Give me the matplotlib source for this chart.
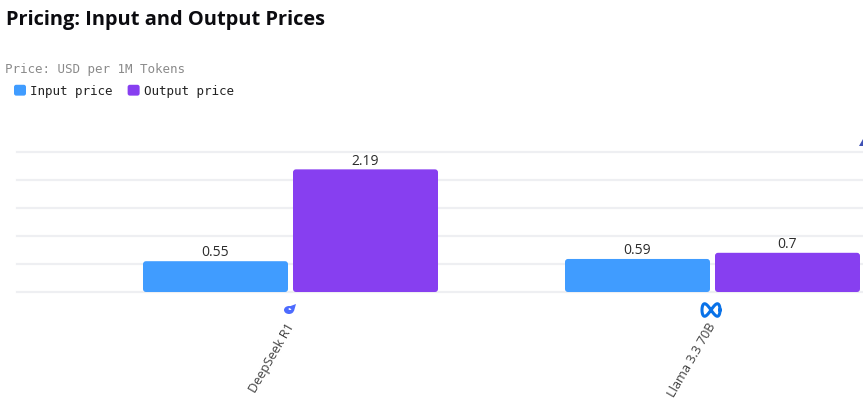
import matplotlib
matplotlib.use("Agg")
import matplotlib.pyplot as plt
import numpy as np
from matplotlib.legend_handler import HandlerPatch
from matplotlib.lines import Line2D
from matplotlib.patches import Ellipse, FancyBboxPatch, Patch, Polygon

# Prices in USD per 1M tokens
models = ["DeepSeek R1", "Llama 3.3 70B"]
input_price = [0.55, 0.59]
output_price = [2.19, 0.7]
y_ticks = [0, 0.5, 1.0, 1.5, 2.0, 2.5]

INPUT_COLOR = "#409CFF"
OUTPUT_COLOR = "#873FF0"
GRID_COLOR = "#EEEFF2"

W, H = 863, 420
fig = plt.figure(figsize=(W / 100, H / 100), dpi=100, facecolor="white")


def fx(px):
    return px / W


def fy(px):
    return 1 - px / H


# Axes box spans the plotting band; categories are spaced widely so the second group touches the edge
ax = fig.add_axes([fx(17), fy(292), fx(846), (292 - 152) / H])
ax.set_facecolor("none")
px_per_cat = 422.0
ax.set_xlim((17 - 290.5) / px_per_cat, (863 - 290.5) / px_per_cat)
ax.set_ylim(0, 2.5)
px_per_val = 140 / 2.5

bar_w = 145 / px_per_cat
gap = 150 / px_per_cat
radius = 3 / px_per_cat
aspect = px_per_cat / px_per_val


def rounded_bars(centers, values, color):
    for c, v in zip(centers, values):
        ax.add_patch(FancyBboxPatch(
            (c - bar_w / 2, 0), bar_w, v,
            boxstyle=f"round,pad=0,rounding_size={radius}",
            mutation_aspect=aspect, facecolor=color, edgecolor="none",
            linewidth=0, zorder=3, clip_on=True))
        ax.annotate(f"{v:g}", (c, v), xytext=(0, 0.6), textcoords="offset points",
                    ha="center", va="bottom", fontsize=10,
                    family="Open Sans", color="#2b2b2b", zorder=4)


x = np.arange(len(models))
rounded_bars(x - gap / 2, input_price, INPUT_COLOR)
rounded_bars(x + gap / 2, output_price, OUTPUT_COLOR)

ax.set_yticks(y_ticks)
ax.set_yticklabels([])
ax.grid(axis="y", color=GRID_COLOR, linewidth=1.6, zorder=0, clip_on=False)
ax.set_axisbelow(True)
ax.tick_params(axis="both", length=0)
for s in ax.spines.values():
    s.set_visible(False)

# Slanted model names sit below the logos
ax.set_xticks(x)
ax.set_xticklabels([])
for xi, name in zip(x, models):
    ax.annotate(name, (xi, 0), xytext=(-3.6, -21), textcoords="offset points",
                rotation=60, rotation_mode="anchor", ha="right", va="top",
                fontsize=9.2, family="Open Sans", color="#404040")

# Title and unit caption
fig.text(fx(6), fy(19.5), "Pricing: Input and Output Prices", fontsize=14.4,
         fontweight="bold", family="Open Sans", color="#0b0b0f", va="center")
fig.text(fx(5), fy(69), "Price: USD per 1M Tokens", fontsize=9,
         family="DejaVu Sans Mono", color="#8a8a8a", va="center")


class RoundedHandle(HandlerPatch):
    def create_artists(self, legend, orig, xd, yd, width, height, fontsize, trans):
        p = FancyBboxPatch((-xd, -yd), width, height,
                           boxstyle="round,pad=0,rounding_size=1.6",
                           facecolor=orig.get_facecolor(), edgecolor="none",
                           linewidth=0, transform=trans)
        return [p]


handle_pt = 12 * 0.72
fs = 9
handles = [Patch(facecolor=INPUT_COLOR, label="Input price"),
           Patch(facecolor=OUTPUT_COLOR, label="Output price")]
fig.legend(handles=handles, loc="center left", bbox_to_anchor=(fx(14), fy(91)),
           ncol=2, frameon=False, borderpad=0, borderaxespad=0,
           handlelength=handle_pt / fs, handleheight=handle_pt / fs,
           handletextpad=0.33, columnspacing=1.2,
           prop={"family": "DejaVu Sans Mono", "size": fs}, labelcolor="#222222",
           handler_map={Patch: RoundedHandle()})

# Provider logos above the model names
meta_t = np.linspace(0, 2 * np.pi, 120)
fig.add_artist(Line2D(fx(711 + 9 * np.cos(meta_t)),
                      fy(310 - 10 * np.sin(2 * meta_t) / 1.6),
                      color="#0A72E8", linewidth=2.2))
fig.add_artist(Ellipse((fx(289), fy(310)), 10 / W, 8 / H, facecolor="#4D6BFE", edgecolor="none"))
fig.add_artist(Ellipse((fx(290), fy(309)), 3 / W, 2 / H, facecolor="white", edgecolor="none"))
fig.add_artist(Polygon([(fx(296), fy(304)), (fx(288), fy(307)), (fx(294), fy(311))],
                       closed=True, facecolor="#4D6BFE", edgecolor="none"))

# Logo of the next model, cut off by the right edge
fig.add_artist(Polygon([(fx(859), fy(146)), (fx(863), fy(139)), (fx(863), fy(146))],
                       closed=True, facecolor="#3F51B5", edgecolor="none"))

fig.savefig("out.png", dpi=100, facecolor="white")
